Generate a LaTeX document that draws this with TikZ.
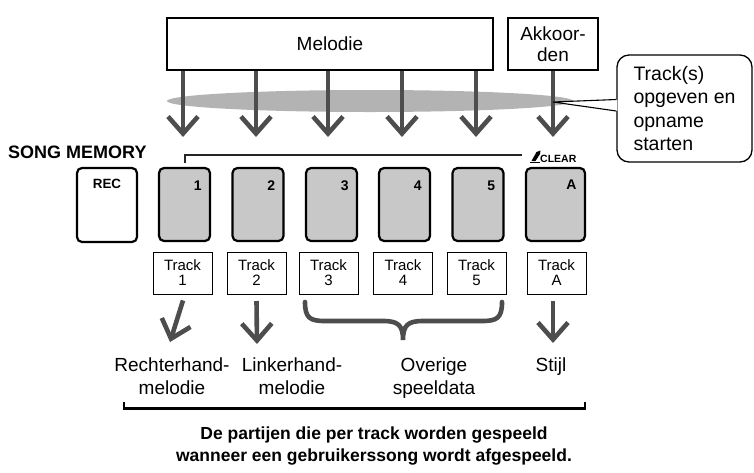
\documentclass[tikz,border=0pt]{standalone}
\usepackage{fontspec}
\setmainfont{Liberation Sans}
\usetikzlibrary{arrows.meta,calc}
\definecolor{agray}{HTML}{4D4D4D}
\definecolor{egray}{HTML}{B3B3B3}
\definecolor{bgray}{HTML}{C8C8C8}
\begin{document}
\begin{tikzpicture}[x=1pt,y=-1pt,
  srcbox/.style={draw, line width=2.4pt, inner sep=0pt, minimum height=52pt, font=\fontsize{19}{21}\selectfont, align=center},
  bigarrow/.style={draw=agray, line width=4.6pt, -{Straight Barb[length=17pt,width=30pt,sharp]}},
  button/.style={draw, line width=2.2pt, rounded corners=5pt, fill=bgray, minimum width=51pt, minimum height=73pt, inner sep=0pt},
  recbutton/.style={button, fill=white, minimum width=60pt, minimum height=74pt},
  num/.style={label={[anchor=center,inner sep=0pt,label distance=-23.3pt,font=\fontsize{14}{14}\selectfont\bfseries]north east:#1}},
  tracklbl/.style={draw, line width=0.9pt, minimum width=59pt, minimum height=42pt, inner sep=0pt, align=center, font=\fontsize{15}{15}\selectfont},
  lbl/.style={align=center, inner sep=0pt, font=\fontsize{19}{23}\selectfont},
  callout/.style={draw, line width=1.3pt, rounded corners=12pt, minimum width=135pt, minimum height=107pt, inner sep=0pt, align=left, font=\fontsize{19.5}{23.5}\selectfont},
  thinbr/.style={draw=black!85, line width=1.3pt},
  bottombr/.style={draw, line width=2.2pt},
  brace/.style={draw=agray, line width=4.6pt, line cap=round}
]
\useasboundingbox (0,0) rectangle (754,472);

% source boxes
\node[srcbox, minimum width=326pt] (mel) at (330,44) {Melodie};
\node[srcbox, minimum width=90pt] (akk) at (553,44) {Akkoor-\\den};

% grey selection ellipse
\fill[egray] (370,101) ellipse [x radius=203pt, y radius=11pt];

% buttons
\node[recbutton, label={[anchor=center,inner sep=0pt,label distance=-17pt,font=\fontsize{13.4}{13.4}\selectfont\bfseries]north:REC}] (rec) at (107,205) {};
\node[button, num=1] (b1) at (184.5,204.5) {};
\node[button, num=2] (b2) at (258,204.5) {};
\node[button, num=3] (b3) at (331.5,204.5) {};
\node[button, num=4] (b4) at (404.5,204.5) {};
\node[button, num=5] (b5) at (478,204.5) {};
\node[button, minimum width=59pt, num=A] (bA) at (555.5,204.5) {};

% arrow tips above the buttons
\coordinate (p1) at (183,137);
\coordinate (p2) at (256,137);
\coordinate (p3) at (328,137);
\coordinate (p4) at (402,137);
\coordinate (p5) at (476,137);
\coordinate (pA) at (553,137);

\draw[bigarrow] (mel.south -| p1) -- (p1);
\draw[bigarrow] (mel.south -| p2) -- (p2);
\draw[bigarrow] (mel.south -| p3) -- (p3);
\draw[bigarrow] (mel.south -| p4) -- (p4);
\draw[bigarrow] (mel.south -| p5) -- (p5);
\draw[bigarrow] (akk.south -| pA) -- (pA);

% callout
\node[callout] (cal) at (684.5,108.5) {Track(s)\\opgeven en\\opname\\starten};
\coordinate (ptr) at (553,102);
\fill[white] (ptr) -- ($(cal.west)+(1,-9)$) -- ($(cal.west)+(1,2.5)$) -- cycle;
\draw[line width=1.1pt] ($(cal.west)+(0,-9)$) -- (ptr) -- ($(cal.west)+(0,2.5)$);

% SONG MEMORY
\node[anchor=west, inner sep=0pt, font=\fontsize{18}{18}\selectfont\bfseries] (sm) at (8,152) {SONG MEMORY};

% bracket over the track buttons
\coordinate (brL) at (185,163);
\coordinate (brR) at (522,155);
\draw[thinbr] (brL) -- (brL |- brR) -- (brR);
\node[anchor=west, inner sep=0pt, font=\fontsize{10.5}{10.5}\selectfont\bfseries] (clr) at (540,158.5) {CLEAR};
\fill (531.5,161) -- (536.5,152) -- (540.5,150.5) -- (540,154) -- (535.5,161) -- cycle;
\draw[line width=1.1pt] (529.5,162.3) -- (539.5,162.3);

% track labels
\node[tracklbl] (t1) at (182.5,273) {Track\\1};
\node[tracklbl] (t2) at (256.5,273) {Track\\2};
\node[tracklbl] (t3) at (328.5,273) {Track\\3};
\node[tracklbl] (t4) at (403,273) {Track\\4};
\node[tracklbl] (t5) at (476.5,273) {Track\\5};
\node[tracklbl] (tA) at (556.5,273) {Track\\A};

% lower arrows
\coordinate (q1) at (170,342);
\coordinate (q2) at (257,344);
\coordinate (qA) at (553,343);
\draw[bigarrow] ($(t1.south)+(0.5,6)$) -- (q1);
\draw[bigarrow] (t2.south |- 0,301) -- (q2);
\draw[bigarrow] (qA |- 0,301) -- (qA);

% brace under tracks 3-5
\draw[brace] (305,302) .. controls (305,318) and (310,321) .. (325,321) -- (383,321)
  .. controls (398,321) and (403,325) .. (403,340)
  .. controls (403,325) and (408,321) .. (423,321) -- (482,321)
  .. controls (497,321) and (502,318) .. (502,302);

% result labels
\node[lbl] (l1) at (172,376.5) {Rechterhand-\\melodie};
\node[lbl] (l2) at (292,376.5) {Linkerhand-\\melodie};
\node[lbl] (l3) at (434,378) {Overige\\speeldata};
\node[lbl] (l4) at (551,367) {Stijl};

% bottom bracket
\draw[bottombr] (124,402) -- (124,408.5) -- (585,408.5) -- (585,402);
\node[align=center, inner sep=0pt, font=\fontsize{17.5}{22.5}\selectfont\bfseries] (cap) at (374,446) {De partijen die per track worden gespeeld\\wanneer een gebruikerssong wordt afgespeeld.};
\end{tikzpicture}
\end{document}
